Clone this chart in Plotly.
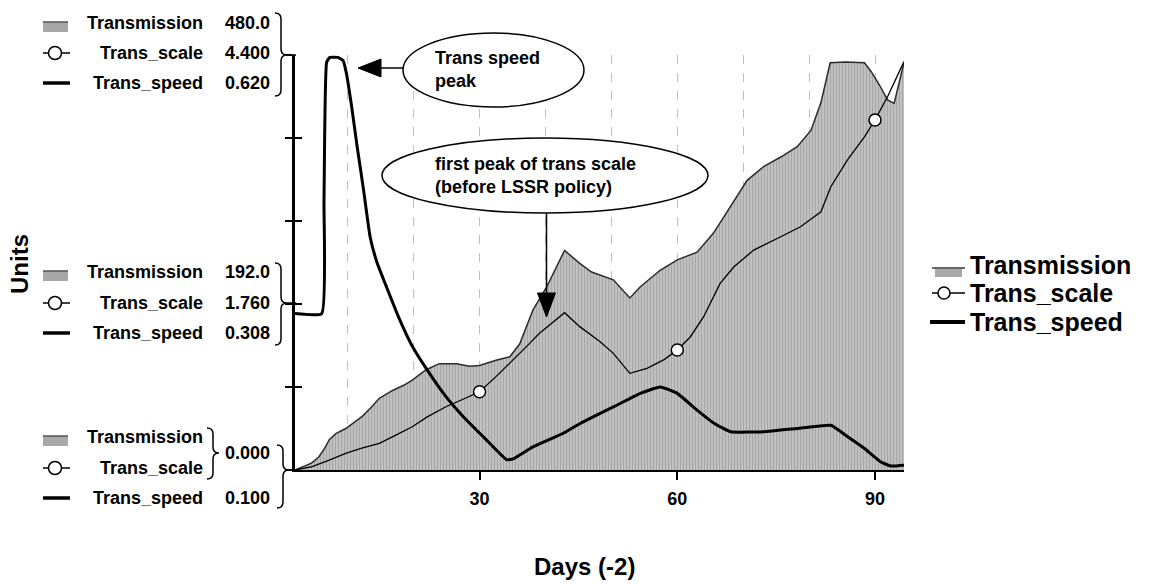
import plotly.graph_objects as go

# ---------------- data ----------------
days_transmission = [2, 3, 4.5, 5.6, 6.5, 7.2, 8.2, 9.7, 11, 12.2, 13.5, 14.8, 16.8, 18.5, 19.8,
                     21.9, 23.9, 26.5, 28.5, 30, 32.5, 34.6, 36.1, 38.1, 40.2, 42.9, 45.2, 47,
                     50.3, 51.8, 52.8, 54.4, 57.4, 60, 63, 65.5, 68.1, 70.6, 73.1, 75.7, 78.2,
                     80.3, 81.8, 83.2, 85.5, 88.4, 89.4, 90.7, 91.9, 92.9, 94.4]
transmission = [0, 3, 8, 15, 25, 35, 42, 48, 55, 62, 72, 83, 92, 98, 104,
                116, 123, 123, 120, 121, 127, 131, 146, 185, 212, 254, 239, 229,
                220, 208, 199, 212, 231, 243, 252, 274, 305, 335, 351, 362, 374,
                393, 425, 471, 472, 471, 461, 445, 428, 424, 471]

days_scale = [2, 4.6, 7, 9.7, 12, 14.8, 17, 19.8, 22, 24.9, 27.5, 30, 32.5, 35.1, 37, 39.1,
              42.9, 45.2, 48.3, 50.3, 52.8, 55.4, 58, 60, 62, 64, 66.5, 68.6, 71.6, 75.7,
              78.7, 81.8, 83.3, 85.8, 88.4, 90, 91.9, 94.4]
trans_scale = [0, 0.035, 0.1, 0.177, 0.23, 0.283, 0.36, 0.459, 0.56, 0.671, 0.75, 0.83, 0.99,
               1.166, 1.3, 1.449, 1.668, 1.52, 1.36, 1.237, 1.025, 1.078, 1.17, 1.272, 1.413,
               1.625, 1.979, 2.155, 2.332, 2.473, 2.579, 2.738, 3.003, 3.286, 3.533, 3.711,
               3.958, 4.33]

days_speed = [2, 6.05, 6.4, 6.8, 7.3, 8.5, 9.3, 9.8, 10.6, 11.4, 12.4, 13.4, 14.4, 15.9,
              17.8, 19.8, 22.4, 24.9, 27.5, 31, 34.1, 35.1, 38.1, 42.7, 45.2, 48.3, 50.3,
              54.4, 57.4, 60, 63, 65.5, 68.1, 73.1, 78.2, 83.3, 85.8, 88.4, 90.9, 92.4, 94.4]
trans_speed = [0.296, 0.296, 0.438, 0.611, 0.617, 0.617, 0.613, 0.597, 0.555, 0.507, 0.451,
               0.392, 0.361, 0.329, 0.29, 0.255, 0.221, 0.192, 0.167, 0.138, 0.113, 0.114,
               0.129, 0.146, 0.158, 0.171, 0.179, 0.196, 0.204, 0.196, 0.175, 0.159, 0.148,
               0.148, 0.152, 0.156, 0.142, 0.127, 0.110, 0.105, 0.106]

marker_days = [30, 60, 90]
x_tick_vals = [30, 60, 90]
series_names = ["Transmission", "Trans_scale", "Trans_speed"]
scale_top = ["480.0", "4.400", "0.620"]
scale_mid = ["192.0", "1.760", "0.308"]
scale_bot_shared = "0.000"
scale_bot_speed = "0.100"

# ---------------- layout helpers ----------------
W, H = 1150, 585
L, R, T, B = 295, 904, 55, 470
FONT = "Liberation Sans, Arial, sans-serif"


def px(x):
    return (x - L) / (R - L)


def py(y):
    return (B - y) / (B - T)


def pt(x, y):
    return f"{px(x):.5f},{py(y):.5f}"


fig = go.Figure()

fig.add_trace(go.Scatter(
    x=days_transmission, y=transmission, mode="lines", fill="tozeroy",
    line=dict(color="#2a2a2a", width=1.5), fillcolor="#b0b0b0",
    fillpattern=dict(shape="|", fgcolor="#858585", bgcolor="#c6c6c6", size=3, solidity=0.45),
    yaxis="y", hoverinfo="skip", showlegend=False))

fig.add_trace(go.Scatter(
    x=days_scale, y=trans_scale, mode="lines",
    line=dict(color="black", width=1.3), yaxis="y2", showlegend=False))

fig.add_trace(go.Scatter(
    x=days_speed, y=trans_speed, mode="lines",
    line=dict(color="black", width=3, shape="spline", smoothing=0.4),
    yaxis="y3", showlegend=False))

marker_vals = [trans_scale[days_scale.index(d)] for d in marker_days]
fig.add_trace(go.Scatter(
    x=marker_days, y=marker_vals, mode="markers",
    marker=dict(size=12, color="white", line=dict(color="black", width=1.5)),
    yaxis="y2", cliponaxis=False, showlegend=False))

shapes = []
annotations = []

# ---- callouts ----
shapes.append(dict(type="circle", xref="paper", yref="paper",
                   x0=px(403), x1=px(584), y0=py(107), y1=py(33),
                   fillcolor="white", line=dict(color="black", width=1.5)))
shapes.append(dict(type="circle", xref="paper", yref="paper",
                   x0=px(382), x1=px(708), y0=py(213), y1=py(138),
                   fillcolor="white", line=dict(color="black", width=1.5)))
annotations.append(dict(xref="paper", yref="paper", x=px(433), y=py(69.5),
                        xanchor="left", yanchor="middle", align="left", showarrow=False,
                        text="Trans speed<br>peak",
                        font=dict(family=FONT, size=18, color="black", weight="bold")))
annotations.append(dict(xref="paper", yref="paper", x=px(433), y=py(175),
                        xanchor="left", yanchor="middle", align="left", showarrow=False,
                        text="first peak of trans scale<br>(before LSSR policy)",
                        font=dict(family=FONT, size=18, color="black", weight="bold")))
# arrow 1 (horizontal, pointing left)
shapes.append(dict(type="line", xref="paper", yref="paper",
                   x0=px(403), y0=py(68), x1=px(378), y1=py(68),
                   line=dict(color="black", width=1.5)))
shapes.append(dict(type="path", xref="paper", yref="paper",
                   path=f"M{pt(358, 68)} L{pt(381, 59)} L{pt(381, 77)} Z",
                   fillcolor="black", line=dict(color="black", width=1)))
# arrow 2 (vertical, pointing down)
shapes.append(dict(type="line", xref="paper", yref="paper",
                   x0=px(546.5), y0=py(213), x1=px(546.5), y1=py(296),
                   line=dict(color="black", width=1.5)))
shapes.append(dict(type="path", xref="paper", yref="paper",
                   path=f"M{pt(546.5, 317)} L{pt(537.5, 293)} L{pt(555.5, 293)} Z",
                   fillcolor="black", line=dict(color="black", width=1)))


# ---- braces ----
def brace(xl, ytop, ybot, ymid, w=12, r=6):
    xm = xl + w * 0.5
    xt = xl + w
    p = (f"M{pt(xl, ytop)} Q{pt(xm, ytop)} {pt(xm, ytop + r)} "
         f"L{pt(xm, ymid - r)} Q{pt(xm, ymid)} {pt(xt, ymid)} "
         f"Q{pt(xm, ymid)} {pt(xm, ymid + r)} "
         f"L{pt(xm, ybot - r)} Q{pt(xm, ybot)} {pt(xl, ybot)}")
    return dict(type="path", xref="paper", yref="paper", path=p,
                line=dict(color="black", width=1.5))


def hline(x0, x1, y, width=1.5, color="black"):
    return dict(type="line", xref="paper", yref="paper",
                x0=px(x0), x1=px(x1), y0=py(y), y1=py(y),
                line=dict(color=color, width=width))


shapes.append(brace(275, 13, 96, 55))
shapes.append(hline(287, 296, 55))
shapes.append(brace(275, 263, 345, 303))
shapes.append(hline(287, 296, 303))
shapes.append(brace(207, 428, 479, 453))
shapes.append(brace(277, 445, 508, 470))
shapes.append(hline(289, 296, 470))


# ---- legend-like swatches ----
def swatch_area(x0, x1, y):
    return [dict(type="rect", xref="paper", yref="paper",
                 x0=px(x0), x1=px(x1), y0=py(y + 10), y1=py(y),
                 fillcolor="#a8a8a8", line=dict(width=0)),
            hline(x0, x1, y, width=1.5, color="#555")]


def swatch_circle(x0, x1, y, cx, r=6.5):
    return [hline(x0, x1, y, width=1.5),
            dict(type="circle", xref="paper", yref="paper",
                 x0=px(cx - r), x1=px(cx + r), y0=py(y + r), y1=py(y - r),
                 fillcolor="white", line=dict(color="black", width=1.5))]


def label(x, y, text, size=18, anchor="right"):
    return dict(xref="paper", yref="paper", x=px(x), y=py(y), xanchor=anchor,
                yanchor="middle", showarrow=False, text=text,
                font=dict(family=FONT, size=size, color="black", weight="bold"))


for ys, vals in (((23, 53, 83), scale_top), ((272, 303, 333), scale_mid)):
    shapes += swatch_area(43, 68, ys[0] - 1)
    shapes += swatch_circle(43, 70, ys[1], 55)
    shapes.append(hline(43, 70, ys[2], width=3.5))
    for yy, name, v in zip(ys, series_names, vals):
        annotations.append(label(205, yy, name))
        annotations.append(label(272, yy, v))

ys = (437, 468, 498)
shapes += swatch_area(43, 68, ys[0] - 1)
shapes += swatch_circle(43, 70, ys[1], 55)
shapes.append(hline(43, 70, ys[2], width=3.5))
for yy, name in zip(ys, series_names):
    annotations.append(label(205, yy, name))
annotations.append(label(272, 453, scale_bot_shared))
annotations.append(label(272, 498, scale_bot_speed))

# right legend
shapes.append(dict(type="rect", xref="paper", yref="paper",
                   x0=px(935), x1=px(962), y0=py(277), y1=py(269),
                   fillcolor="#a8a8a8", line=dict(width=0)))
shapes.append(hline(932, 965, 268, width=1.5, color="#333"))
shapes += swatch_circle(932, 965, 293, 944, r=6)
shapes.append(hline(930, 965, 322, width=4))
for yy, name in zip((265, 293, 322), series_names):
    annotations.append(label(968, yy, name, size=25, anchor="left"))

# axis titles
annotations.append(dict(xref="paper", yref="paper", x=px(19), y=py(264), textangle=-90,
                        xanchor="center", yanchor="middle", showarrow=False, text="Units",
                        font=dict(family=FONT, size=24, color="black", weight="bold")))
annotations.append(dict(xref="paper", yref="paper", x=px(584), y=py(566),
                        xanchor="center", yanchor="middle", showarrow=False, text="Days (-2)",
                        font=dict(family=FONT, size=24, color="black", weight="bold")))

grid_style = dict(gridcolor="#c0c0c0", griddash="dash", gridwidth=1)

fig.update_layout(
    width=W, height=H, autosize=False,
    margin=dict(l=L, r=W - R, t=T, b=H - B, pad=0),
    paper_bgcolor="white", plot_bgcolor="white",
    font=dict(family=FONT, color="black"),
    xaxis=dict(range=[2, 94.4], tickvals=x_tick_vals, ticks="outside", ticklen=8, tickwidth=2,
               tickcolor="black", showline=True, linecolor="black", linewidth=1.5,
               showgrid=True, zeroline=False, ticklabelstandoff=4,
               tickfont=dict(family=FONT, size=18, color="black", weight="bold"),
               minor=dict(tick0=0, dtick=10, showgrid=True, ticks="", **grid_style),
               **grid_style),
    yaxis=dict(range=[0, 480], tick0=0, dtick=96, ticks="outside", ticklen=7, tickwidth=2,
               tickcolor="black", showline=True, linecolor="black", linewidth=3,
               showticklabels=False, showgrid=False, zeroline=False),
    yaxis2=dict(range=[0, 4.4], overlaying="y", side="left", tick0=0, dtick=0.88,
                ticks="inside", ticklen=7, tickwidth=2, tickcolor="black",
                showticklabels=False, showgrid=False, zeroline=False, showline=False),
    yaxis3=dict(range=[0.1, 0.62], overlaying="y", side="left", ticks="",
                showticklabels=False, showgrid=False, zeroline=False, showline=False),
    shapes=shapes, annotations=annotations, showlegend=False,
)

fig.write_html("out.html", config={"displayModeBar": False})
